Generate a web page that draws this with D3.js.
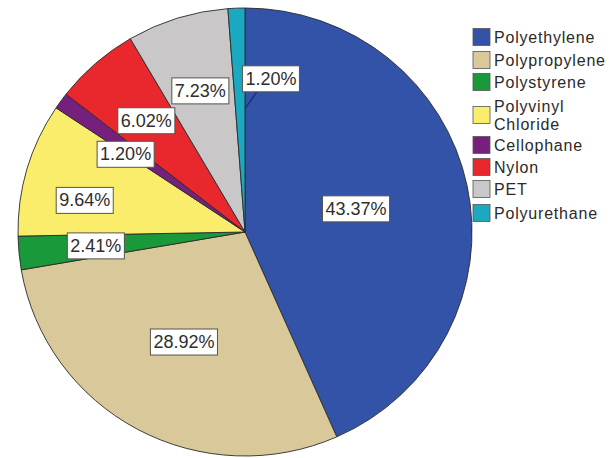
<!DOCTYPE html>
<html>
<head>
<meta charset="utf-8">
<script src="https://cdn.jsdelivr.net/npm/d3@7"></script>
<style>
  html, body { margin: 0; padding: 0; background: #ffffff; }
  svg { display: block; }
  text { font-family: "Liberation Sans", Arial, sans-serif; }
</style>
</head>
<body>
<svg id="chart" width="614" height="458"></svg>
<script>
// Plastic types found, share of items (%)
const categories = ["Polyethylene", "Polypropylene", "Polystyrene", "Polyvinyl Chloride",
                    "Cellophane", "Nylon", "PET", "Polyurethane"];
const shares = [43.37, 28.92, 2.41, 9.64, 1.20, 6.02, 7.23, 1.20];
const valueLabels = ["43.37%", "28.92%", "2.41%", "9.64%", "1.20%", "6.02%", "7.23%", "1.20%"];
const legendLines = [["Polyethylene"], ["Polypropylene"], ["Polystyrene"], ["Polyvinyl", "Chloride"],
                     ["Cellophane"], ["Nylon"], ["PET"], ["Polyurethane"]];
const colors = ["#3253a8", "#d9c99a", "#19993a", "#fbed6c", "#76207e", "#e9282d", "#c9c7c7", "#1ba9c2"];

// Label placement inside each slice: radius fraction and angle nudge (degrees)
const labelRadius = [0.50, 0.56, 0.66, 0.72, 0.63, 0.66, 0.66, 0.55];
const labelNudge  = [0, 0.5, 0, -5, -2.4, 0, 0, 1.2];

const svg = d3.select("#chart");
const cx = 245, cy = 232, rx = 227, ry = 224;

const pie = d3.pie().sort(null).value(d => d)(shares);
const arc = d3.arc().innerRadius(0).outerRadius(rx);

const pieG = svg.append("g")
  .attr("transform", `translate(${cx},${cy}) scale(1,${ry / rx})`);

pieG.selectAll("path.slice")
  .data(pie)
  .join("path")
  .attr("class", "slice")
  .attr("d", arc)
  .attr("fill", (d, i) => colors[i])
  .attr("stroke", "#2a2a2a")
  .attr("stroke-width", 0.9)
  .attr("vector-effect", "non-scaling-stroke")
  .attr("stroke-linejoin", "round");

// point inside the (elliptical) pie at angle a (radians, clockwise from top) and fraction f
function polar(a, f) {
  return [cx + rx * f * Math.sin(a), cy - ry * f * Math.cos(a)];
}

const labelG = svg.append("g");
pie.forEach((d, i) => {
  const mid = (d.startAngle + d.endAngle) / 2 + labelNudge[i] * Math.PI / 180;
  let [x, y] = polar(mid, labelRadius[i]);
  const g = labelG.append("g");
  if (i === categories.length - 1) {
    // thin slice: label set off to the side with a leader line
    const bx = x + 28, by = y - 30;
    g.append("line")
      .attr("x1", x + 2).attr("y1", y)
      .attr("x2", bx - 14).attr("y2", by + 13)
      .attr("stroke", "#1c2f66").attr("stroke-width", 1.2);
    x = bx; y = by;
  }
  const t = g.append("text")
    .attr("x", x).attr("y", y)
    .attr("text-anchor", "middle")
    .attr("dominant-baseline", "central")
    .attr("font-size", 18)
    .attr("fill", "#2e2e2e")
    .text(valueLabels[i]);
  const bb = t.node().getBBox();
  g.insert("rect", "text")
    .attr("x", bb.x - 3).attr("y", y - 13)
    .attr("width", bb.width + 6).attr("height", 26)
    .attr("fill", "#ffffff")
    .attr("stroke", "#55544a").attr("stroke-width", 1);
});

// Legend
const legendG = svg.append("g").attr("transform", "translate(473,0)");
const rowY = [37, 60, 82, 115, 145, 167, 189, 213];
categories.forEach((c, i) => {
  const row = legendG.append("g").attr("transform", `translate(0,${rowY[i]})`);
  row.append("rect")
    .attr("x", 0).attr("y", -8.5)
    .attr("width", 17).attr("height", 17)
    .attr("fill", colors[i])
    .attr("stroke", "#555").attr("stroke-width", 0.8);
  const lines = legendLines[i];
  lines.forEach((ln, j) => {
    row.append("text")
      .attr("x", 21)
      .attr("y", (j - (lines.length - 1) / 2) * 18)
      .attr("dominant-baseline", "central")
      .attr("font-size", 16)
      .attr("letter-spacing", 0.8)
      .attr("fill", "#2a2a2a")
      .text(ln);
  });
});
</script>
</body>
</html>
